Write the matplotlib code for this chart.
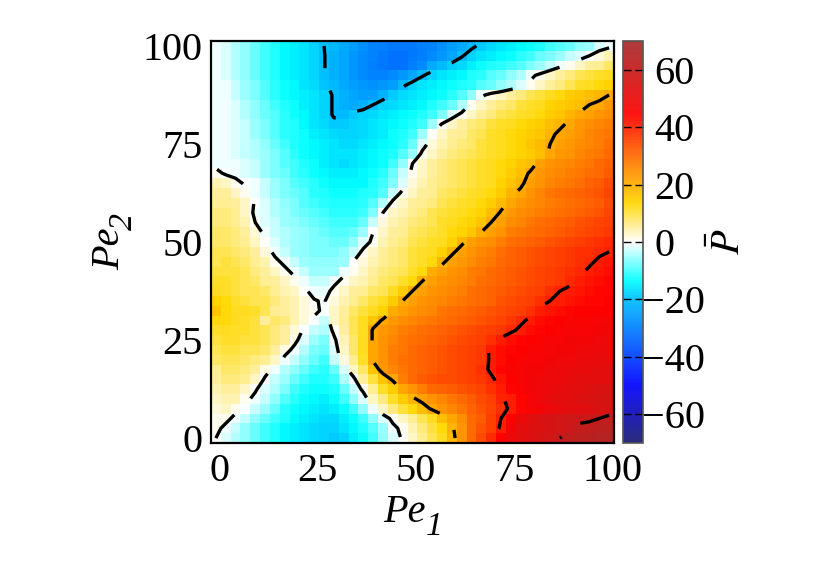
#!/usr/bin/env python3
import numpy as np
import matplotlib
matplotlib.use('Agg')
import matplotlib.pyplot as plt
from matplotlib.colors import LinearSegmentedColormap
from matplotlib.transforms import ScaledTranslation

plt.rcParams['font.family'] = ['Liberation Serif', 'DejaVu Serif']
plt.rcParams['mathtext.fontset'] = 'stix'

pe1 = [0, 2.5, 5, 7.5, 10, 12.5, 15, 17.5, 20, 22.5, 25, 27.5, 30, 32.5, 35, 37.5, 40, 42.5, 45, 47.5, 50,
       52.5, 55, 57.5, 60, 62.5, 65, 67.5, 70, 72.5, 75, 77.5, 80, 82.5, 85, 87.5, 90, 92.5, 95, 97.5, 100]
pe2 = pe1

# rows go from Pe2 = 100 (top of the map) down to Pe2 = 0
pbar = [
    [-1, -2, -4, -6, -8, -10, -12, -14, -15, -16, -18, -20, -21, -23, -25, -27, -29, -30, -31, -31, -31,
     -30, -29, -27, -25, -23, -21, -19, -17, -16, -15, -14, -13, -12, -10, -9, -8, -6, -5, -2, -1],
    [-1, -2, -4, -6, -8, -10, -12, -14, -15, -16, -18, -19.8, -22, -24, -26, -28, -29, -31, -32, -32, -31,
     -30, -28, -26, -24, -20.5, -18, -16, -15, -14, -13, -11, -10, -8, -7, -5, -3, -2, 0, 2, 4],
    [-1, -2, -4, -6, -8, -10, -12, -14, -15, -16, -18, -19.8, -22, -24, -26, -28, -30, -31, -32, -32, -30,
     -28, -23, -20.5, -18.5, -17, -15, -13, -12, -11, -10, -9, -7, -5, -3, -1, 1, 3, 5, 6, 8],
    [-1, -2, -4, -6, -8, -10, -12, -14, -15, -16, -18, -19.8, -22, -24, -26, -28, -29, -29, -28, -26, -24,
     -20.5, -18, -16, -15, -14, -12, -11, -9, -8, -6, -4, -1, 1, 3, 5, 7, 9, 10, 11, 12],
    [-1, -1, -3, -5, -7, -9, -11, -13, -14, -16, -17, -19.5, -21, -23, -25, -26, -27, -26, -25, -21, -18,
     -16, -15, -14, -13, -12, -11, -9, -8, -6, -4, -2, 1, 3, 5, 7, 9, 11, 12, 13, 14],
    [-1, -1, -3, -5, -7, -9, -11, -13, -14, -15, -16, -18, -20.5, -22, -24, -25, -25, -22, -19, -17, -16,
     -15, -14, -13, -11, -9, -6, -1, 1.5, 3, 5, 7, 9, 10, 12, 13, 15, 16, 17, 18.5, 20],
    [-1, -1, -2, -4, -6, -8, -10, -12, -13, -15, -16, -18, -20.5, -22, -23, -22, -20, -18, -17, -16, -15,
     -14, -12, -10, -8, -4, 1, 3, 5, 7, 8, 10, 11, 12, 14, 15, 16, 17, 20, 21, 23],
    [-1, -1, -2, -4, -6, -8, -9, -11, -13, -14, -16, -18, -20.5, -20.5, -19, -18, -17, -16, -15, -14, -13,
     -12, -10, -7, -2, 1, 3, 5, 7, 9, 10, 11, 12, 13, 15, 16, 19, 21, 22, 24, 25],
    [-1, -1, -2, -3, -5, -7, -9, -11, -12, -14, -16, -17, -19, -19, -18, -17, -16, -15, -14, -13, -12,
     -10, -5, 0.5, 3, 5, 7, 8, 10, 11, 12, 13, 14, 15, 17, 19, 21, 23, 25, 26, 27],
    [-1, -1, -2, -3, -5, -7, -9, -11, -12, -13, -15, -16, -17, -18, -18, -17, -16, -15, -13, -12, -10,
     -5, 0, 3, 5, 6, 8, 9, 11, 12, 13, 14, 15, 16, 19, 21, 22, 24, 26, 27, 28],
    [-1, -1, -2, -3, -4, -6, -8, -10, -12, -13, -14, -15, -16, -17, -17, -16, -15, -14, -13, -11, -8,
     -2, 2, 4, 6, 7, 8, 10, 11, 12, 13, 14, 16, 18, 20, 22, 23, 25, 26, 27, 29],
    [-1, -1, -2, -3, -4, -5, -7, -9, -11, -13, -14, -15, -16, -16, -16, -15, -14, -13, -12, -9, -5,
     1, 3, 5, 7, 8, 9, 10, 11, 12, 13, 14, 15, 17, 21, 23, 24, 26, 27, 28, 30],
    [-1, -1, -1, -2, -3, -5, -7, -9, -10, -12, -13, -15, -16, -17, -16, -15, -14, -13, -10, -6, 0,
     3, 5, 7, 8, 9, 10, 11, 12, 13, 14, 16, 17, 22, 24, 25, 26, 27, 28, 30, 31],
    [1, -0.5, -1, -2, -3, -5, -7, -8, -10, -11, -13, -14, -15, -15, -15, -14, -13, -11, -8, -3, 1,
     3, 5, 7, 8, 9, 10, 11, 12, 13, 15, 17, 21, 23, 25, 26, 27, 28, 29, 30, 32],
    [4, 3, 1, -0.5, -1, -3, -5, -7, -9, -10, -11, -13, -14, -14, -14, -14, -12, -10, -7, -2, 2,
     4, 6, 7, 8, 9, 10, 11, 12, 14, 16, 19, 22, 24, 26, 27, 28, 29, 31, 32, 34],
    [5, 5, 3, 1, -1, -3, -5, -7, -8, -9, -11, -12, -13, -13, -13, -12, -11, -9, -3, 1, 3,
     5, 6, 8, 9, 10, 11, 12, 13, 15, 19, 21, 24, 26, 28, 29, 30, 31, 32, 33, 35],
    [6, 6, 5, 3, -0.5, -2, -4, -6, -7, -9, -10, -11, -12, -12, -12, -11, -9, -4, 1, 3, 5,
     6, 7, 9, 10, 11, 12, 13, 15, 18, 21, 23, 25, 26, 27, 28, 29, 30, 31, 32, 34],
    [7, 7, 6, 3, -1, -2, -4, -5, -7, -8, -9, -10, -11, -11, -11, -10, -7, 0, 3, 4, 6,
     7, 9, 10, 11, 12, 13, 14, 17, 20.5, 23, 25, 26, 27, 28, 29, 30, 31, 32, 33, 35],
    [7, 7, 6, 4, 0, -2, -3, -5, -6, -7, -8, -9, -10, -10, -10, -8, -3, 2, 4, 5, 7,
     8, 9, 11, 12, 13, 14, 16, 20, 22, 25, 26, 28, 29, 30, 31, 32, 33, 34, 35, 36],
    [8, 8, 7, 5, 2, -1, -3, -4, -5, -6, -7, -8, -9, -9, -8, -5, 0, 3, 5, 6, 8,
     9, 10, 11, 13, 14, 16, 20, 22, 24, 27, 28, 29, 30, 31, 32, 33, 34, 35, 36, 37],
    [8, 8, 7, 6, 3, 0.5, -2, -4, -5, -6, -7, -7, -8, -8, -6, -2, 1, 4, 6, 7, 9,
     10, 11, 12, 14, 19, 22, 24, 25, 27, 29, 30, 31, 32, 33, 34, 35, 36, 37, 38, 39],
    [9, 9, 8, 7, 5, 2, -1, -3, -5, -6, -7, -7, -7, -6, -3, 1, 3, 5, 7, 8, 10,
     11, 12, 14, 19, 22, 24, 26, 27, 29, 31, 32, 33, 34, 35, 36, 37, 38, 38, 39, 40],
    [9, 10, 9, 8, 6, 4, 1, -1, -3, -5, -6, -6, -6, -5, 0, 2, 4, 6, 7, 8, 10,
     11, 13, 19, 22, 23, 25, 27, 28, 30, 31, 32, 33, 34, 35, 36, 37, 38, 39, 41, 42],
    [10, 10, 10, 9, 7, 5, 3, 1, -1, -3, -5, -5, -5, -1, 1, 3, 5, 7, 8, 9, 11,
     13, 20, 22, 24, 25, 27, 28, 30, 31, 32, 33, 34, 35, 36, 37, 38, 39, 41, 42, 43],
    [11, 11, 10, 9, 8, 6, 5, 3, 1, -1, -3, -3, -1, 1, 3, 4, 6, 8, 9, 11, 13,
     20, 22, 24, 25, 26, 27, 29, 30, 31, 32, 33, 34, 35, 36, 37, 39, 41, 42, 43, 44],
    [12, 11, 10, 9, 9, 8, 6, 4, 3, 0.5, -1, -1.5, 1, 3, 5, 6, 8, 9, 12, 15, 20,
     22, 24, 25, 26, 27, 29, 30, 31, 32, 33, 34, 35, 36, 38, 40, 41, 42, 43, 44, 44],
    [14, 13, 11, 10, 9, 9, 7, 5, 4, 2, 0.2, -0.3, 2, 4, 6, 8, 10, 12, 15, 20, 22,
     24, 25, 26, 27, 28, 29, 30, 31, 33, 34, 35, 36, 38, 40, 41, 42, 43, 44, 44, 45],
    [16, 13, 12, 12, 11, 9, 6, 5, 4, 2, 0.6, -0.5, 3, 5, 8, 10, 12, 14, 20, 22, 24,
     25, 26, 28, 29, 30, 31, 32, 33, 34, 35, 36, 38, 41, 42, 43, 44, 45, 45, 45, 45],
    [13, 13, 12, 11, 10, 5, 8, 7, 4, 2, -0.5, -3, 3, 6, 9, 12, 16, 21, 23, 25, 26,
     27, 28, 29, 30, 31, 32, 33, 34, 35, 37, 39, 41, 43, 44, 45, 46, 46, 46, 47, 47],
    [11, 12, 11, 11, 10, 9, 7, 5, 2, -0.5, -3, -4, 1, 5, 9, 12, 21, 23, 25, 27, 28,
     29, 30, 31, 32, 33, 34, 35, 36, 37, 39, 41, 43, 44, 45, 46, 47, 47, 47, 48, 48],
    [10, 11, 11, 10, 10, 9, 7, 5, 1, -2, -5, -7, -1, 4, 8, 12, 21, 24, 26, 28, 29,
     30, 31, 32, 33, 34, 35, 36, 38, 41, 43, 44, 45, 46, 47, 47, 48, 48, 48, 49, 50],
    [9, 10, 10, 9, 9, 8, 5, 1.5, -1, -4, -7, -8, -2, 3, 8, 12, 21, 24, 27, 28, 30,
     31, 32, 33, 34, 35, 36, 37, 41, 43, 44, 45, 46, 47, 47, 48, 48, 49, 49, 50, 50],
    [8, 9, 9, 8, 7, 6, 3, -1, -3, -6, -8, -10, -3, 2, 6, 11, 21, 24, 27, 29, 30,
     31, 32, 33, 34, 35, 36, 37, 41, 43, 45, 46, 47, 47, 48, 49, 49, 50, 50, 51, 51],
    [6, 8, 8, 7, 5, 1.5, -1, -4, -6, -8, -10, -11, -8, -2, 3, 8, 16, 23, 26, 28, 30,
     31, 32, 33, 34, 35, 36, 38, 41, 44, 46, 47, 48, 48, 49, 50, 50, 51, 51, 52, 52],
    [5, 7, 7, 6, 3, -0.5, -3, -5, -8, -10, -12, -12, -10, -4, -1, 5, 10, 16, 21, 27, 30,
     32, 33, 34, 34, 35, 36, 37, 39, 42, 45, 47, 48, 49, 50, 50, 51, 52, 52, 53, 53],
    [4, 5, 5, 3, 0.5, -2, -4, -7, -10, -12, -13, -13, -12, -8, -3, 1, 6, 11, 15, 21, 24,
     27, 30, 31, 32, 33, 34, 35, 38, 41, 44, 46, 48, 49, 50, 51, 52, 53, 54, 55, 55],
    [3, 4, 4, 1, -1, -3, -6, -9, -11, -13, -14, -15, -13, -10, -6, -2, 3, 7, 11, 15, 19,
     22, 24, 26, 28, 30, 32, 34, 36, 39.5, 41, 44, 47, 49, 51, 52, 53, 54, 55, 56, 56],
    [2, 3, 1, -0.5, -3, -5, -8, -11, -13, -14, -15, -16, -15, -13, -10, -6, -1, 3, 7, 10, 13,
     17, 21, 24, 26, 28, 31, 33, 35, 38, 41, 44, 47, 48, 50, 51, 52, 53, 54, 55, 56],
    [1, 1, -1, -3, -6, -8, -10, -12, -14, -15, -16, -17, -17, -15, -13, -10, -6, -2, 1, 3, 6,
     9, 12, 17, 21, 25, 30, 32, 36, 40, 45, 50, 53, 55, 56, 57, 58, 59, 59, 60, 62],
    [1, -1, -3, -6, -8, -10, -12, -14, -15, -16, -17, -18, -18, -16, -14, -12, -9, -5, -1, 1, 4,
     7, 10, 13, 19, 24, 30, 33, 36, 41, 48, 52, 54, 55, 56, 57, 59, 61, 62, 63, 64],
    [0, -2, -4, -6, -8, -10, -12, -14, -15, -16, -17, -18, -19, -18, -15, -13, -10, -6, -2, 0.5, 3,
     6, 9, 12, 18, 24, 30, 34, 39, 45, 50, 52, 54, 56, 57, 60, 62, 63, 64, 65, 66],
]

contour_levels = [-20, 0, 20, 40, 60]
axis_ticks = [0, 25, 50, 75, 100]
bar_ticks = [-60, -40, -20, 0, 20, 40, 60]

cmap_colors = [(0.0, '#191970'), (0.143, '#0000ff'), (0.357, '#00bfff'), (0.4036, '#00ffff'),
               (0.5, '#ffffff'), (0.596, '#ffd700'), (0.68, '#ff8c00'), (0.82, '#ff0000'),
               (1.0, '#a52a2a')]
cmap = LinearSegmentedColormap.from_list('pbar', cmap_colors, N=256)

W, H = 830, 581
fig = plt.figure(figsize=(W / 100, H / 100), dpi=100)
ax = fig.add_axes([211 / W, 1 - 443 / H, 403 / W, 402 / H])
cax = fig.add_axes([623 / W, 1 - 443 / H, 20 / W, 402 / H])

z = np.array(pbar)[::-1]
mesh = ax.pcolormesh(pe1, pe2, z, cmap=cmap, vmin=-70, vmax=70, shading='nearest', rasterized=True)
ax.contour(pe1, pe2, z, levels=contour_levels, colors='black', linewidths=2.4,
           linestyles=[(0, (9, 7))])
ax.set_xlim(-1.25, 101.25)
ax.set_ylim(-1.25, 101.25)
ax.set_xticks(axis_ticks)
ax.set_yticks(axis_ticks)
ax.tick_params(length=0, labelsize=29, pad=6)
ax.tick_params(axis='x', pad=7)
for lab in ax.get_xticklabels():
    lab.set_transform(lab.get_transform() + ScaledTranslation(3.5 / 100, 0, fig.dpi_scale_trans))
for spine in ax.spines.values():
    spine.set_linewidth(1.6)


def label_text(px, py, s, size, rotation=0):
    fig.text(px / W, 1 - py / H, s, fontsize=size, style='italic', rotation=rotation,
             rotation_mode='anchor', ha='left', va='baseline')


# axis names are set by hand, mathtext will not slant the subscript digit
label_text(383, 522, 'Pe', 29)
label_text(426, 535, '1', 24.5)
label_text(119, 270, 'Pe', 29, rotation=90)
label_text(132, 230, '2', 24.5, rotation=90)

cb = fig.colorbar(mesh, cax=cax, ticks=bar_ticks)
cb.outline.set_edgecolor('#555555')
cb.outline.set_linewidth(1.2)
cb.solids.set_alpha(0.92)
cax.tick_params(direction='in', left=True, right=True, length=6, width=1, color='black', labelsize=29, pad=8)
for lab, val in zip(cax.get_yticklabels(), bar_ticks):
    if val < 0:
        lab.set_transform(lab.get_transform() + ScaledTranslation(-12 / 100, 0, fig.dpi_scale_trans))
cb.set_label(r'$\bar{P}$', fontsize=29)
cax.yaxis.set_label_coords(4.4, 0.5)

fig.savefig('out.png', dpi=100)
